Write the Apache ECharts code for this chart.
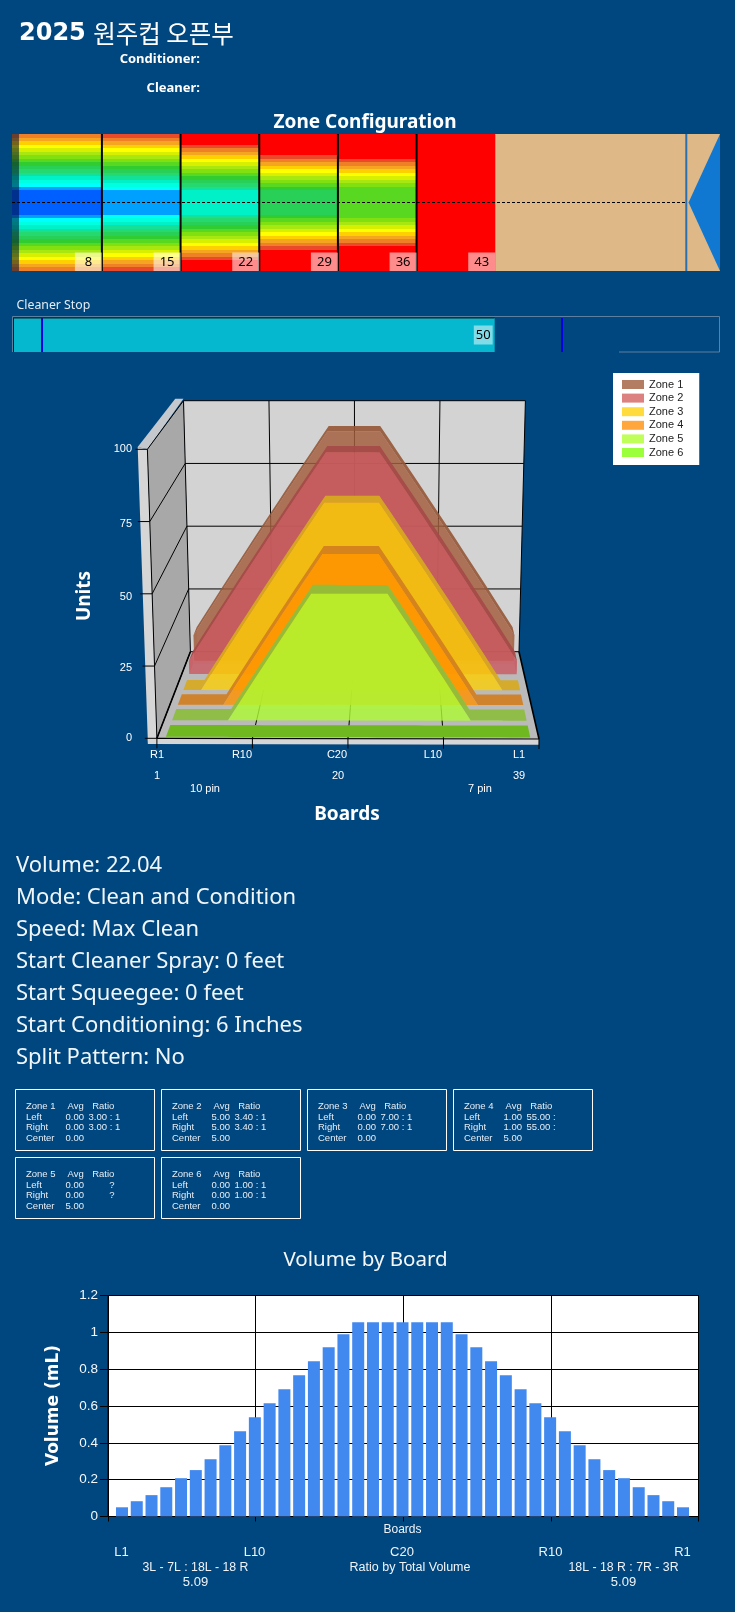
<![CDATA[<!DOCTYPE html>
<html><head><meta charset="utf-8">
<style>html,body{margin:0;padding:0;background:#00467F;}#c{width:735px;height:1612px;}</style>
<script src="https://cdn.jsdelivr.net/npm/echarts@6/dist/echarts.min.js"></script>
</head><body><div id="c"></div>
<script>
// ---- data ----
const zoneNames=['Zone 1','Zone 2','Zone 3','Zone 4','Zone 5','Zone 6'];
const zone1=[10,15,20,25,30,35,40,45,50,55,60,65,70,75,80,85,90,90,90,90,90,90,90,85,80,75,70,65,60,55,50,45,40,35,30,25,20,15,10];
const zone2=[5,10,15,20,25,30,35,40,45,50,55,60,65,70,75,80,85,85,85,85,85,85,85,80,75,70,65,60,55,50,45,40,35,30,25,20,15,10,5];
const zone3=[0,0,0,5,10,15,20,25,30,35,40,45,50,55,60,65,70,70,70,70,70,70,70,65,60,55,50,45,40,35,30,25,20,15,10,5,0,0,0];
const zone4=[0,0,0,0,0,0,5,10,15,20,25,30,35,40,45,50,55,55,55,55,55,55,55,50,45,40,35,30,25,20,15,10,5,0,0,0,0,0,0];
const zone5=[0,0,0,0,0,0,0,5,10,15,20,25,30,35,40,45,45,45,45,45,45,45,45,45,40,35,30,25,20,15,10,5,0,0,0,0,0,0,0];
const zone6=[0,0,0,0,0,0,0,0,0,0,0,0,0,0,0,0,0,0,0,0,0,0,0,0,0,0,0,0,0,0,0,0,0,0,0,0,0,0,0];
const zoneValues=[zone1,zone2,zone3,zone4,zone5,zone6];
const zoneStops=[0,8,15,22,29,36,43];
const cleanerStop=[50];
const cleanerMarks=[3,57];
const unitTicks=[0,25,50,75,100];
const boardTicks=[0.125,10.06,20,29.94,39.875];
const boardVolume=[0.05,0.083,0.116,0.159,0.208,0.252,0.311,0.387,0.463,0.539,0.615,0.691,0.767,0.843,0.919,0.99,1.055,1.055,1.055,1.055,1.055,1.055,1.055,0.99,0.919,0.843,0.767,0.691,0.615,0.539,0.463,0.387,0.311,0.252,0.208,0.159,0.116,0.083,0.05];
const infoLines=['Volume: 22.04','Mode: Clean and Condition','Speed: Max Clean','Start Cleaner Spray: 0 feet','Start Squeegee: 0 feet','Start Conditioning: 6 Inches','Split Pattern: No'];
const statAvgLeft=['0.00','5.00','0.00','1.00','0.00','0.00'];
const statAvgRight=['0.00','5.00','0.00','1.00','0.00','0.00'];
const statCenter=['0.00','5.00','0.00','5.00','5.00','0.00'];
const statRatio=['3.00 : 1','3.40 : 1','7.00 : 1','55.00 :','?','1.00 : 1'];
// ---- style ----
const BG='#00467F';
const heatPalette=['#ff0000','#e84a2a','#f08028','#f5a520','#ffd000','#ffff00','#d8f000','#a8e810','#80e010','#58d820','#30cc30','#28d058','#25d870','#15e098','#00f0c8','#00ffe0','#00ffff','#00a0ff','#0060ff','#0050ff','#0040ff'];
const frontColors=['rgba(162,95,62,.8)','rgba(203,89,96,.8)','rgba(251,206,6,.8)','rgba(255,145,0,.8)','rgba(172,251,50,.8)','rgba(150,240,40,.8)'];
const topColors=['rgba(150,88,58,.9)','rgba(165,72,72,.9)','rgba(215,170,30,.9)','rgba(210,125,30,.9)','rgba(140,190,60,.9)','rgba(112,184,32,1)'];
const legendColors=['#B27D63','#DC8080','#FFDC3C','#FFA63C','#C0FF5A','#9CFF3C'];
const BOARD_MIN=0.125,BOARD_MAX=39.875;
// perspective frame of the 3D box: corners -> pixel
const C={p000:[156.9,738.3],p100:[539,739],p010:[147.4,449.3],p110:[548.5,449.3],p001:[190.4,651.7],p101:[519,651.7],p011:[183.5,400.7],p111:[525.4,400.7]};
const zoneDepth=[[.895,.995],[.742,.858],[.558,.673],[.388,.51],[.21,.338],[.018,.154]];
function L(a,b,t){return [a[0]+(b[0]-a[0])*t,a[1]+(b[1]-a[1])*t];}
function tri(u,v,w){
  const f0=L(L(C.p000,C.p100,u),L(C.p010,C.p110,u),v);
  const f1=L(L(C.p001,C.p101,u),L(C.p011,C.p111,u),v);
  return L(f0,f1,w);
}
function proj(params,api){
  const g=params.coordSys;
  return (board,units,w)=>{const c=api.coord([board,units]);return tri((c[0]-g.x)/g.width,1-(c[1]-g.y)/g.height,w);};
}
function poly(points,fill,extra){return Object.assign({type:'polygon',shape:{points,smooth:0},style:{fill}},extra||{});}
function line(a,b,width,color){return {type:'line',shape:{x1:a[0],y1:a[1],x2:b[0],y2:b[1]},style:{stroke:color||'#000',lineWidth:width||1,fill:null}};}
// ---- series: lane ----
const stripeData=[];
zoneValues.forEach((vals,z)=>vals.forEach((v,row)=>stripeData.push([zoneStops[z],zoneStops[z+1],row,v])));
const LANE_END=60,DECK_END=63,GUTTER=0.62;
const laneSeries=[{type:'custom',xAxisIndex:0,yAxisIndex:0,data:stripeData,silent:true,encode:{x:[0,1],y:2},
  renderItem(p,api){
    const a=api.coord([api.value(0),api.value(2)]),b=api.coord([api.value(1),api.value(2)+1]);
    const y0=Math.round(a[1]),y1=Math.round(b[1]);
    return {type:'rect',shape:{x:a[0],y:y0,width:b[0]-a[0],height:y1-y0},style:{fill:api.visual('color')}};
  }},
 {type:'custom',xAxisIndex:0,yAxisIndex:0,data:zoneStops.slice(1),silent:true,z:3,encode:{x:0},
  renderItem(p,api){
    const ft=api.value(0),top=api.coord([ft,0]),bot=api.coord([ft,39]);
    const ch=[];
    if(p.dataIndex===0){
      const r0=api.coord([43,0]),r1=api.coord([DECK_END,39]),f0=api.coord([LANE_END,0]),f1=api.coord([LANE_END,39]),mid=api.coord([LANE_END+.2,19.5]),e0=api.coord([DECK_END,0]),e1=api.coord([DECK_END,39]);
      ch.push({type:'rect',shape:{x:r0[0],y:r0[1],width:r1[0]-r0[0],height:r1[1]-r0[1]},style:{fill:'#DEB887'}});
      ch.push(poly([mid,e0,e1],'#1078D0'));
      const g0=api.coord([0,0]),g1=api.coord([GUTTER,39]);
      ch.push({type:'rect',shape:{x:g0[0],y:g0[1],width:g1[0]-g0[0],height:g1[1]-g0[1]},style:{fill:'rgba(0,10,50,.55)'}});
      ch.push(line(f0,f1,2,'#2A6FB0'));
      const c0=api.coord([0,19.5]),c1=api.coord([LANE_END,19.5]);
      ch.push({type:'line',shape:{x1:c0[0],y1:c0[1],x2:c1[0],y2:c1[1]},style:{stroke:'#000',lineWidth:1,lineDash:[3,2],fill:null}});
    }
    if(ft<43) ch.push(line(top,bot,2,'#000'));
    ch.push({type:'rect',shape:{x:bot[0]-27,y:bot[1]-18.5,width:27,height:18.5},style:{fill:'rgba(255,255,255,.55)'}});
    ch.push({type:'text',style:{text:String(ft),x:bot[0]-13.5,y:bot[1]-9,fill:'#000',font:'13px "Noto Sans"',textAlign:'center',textVerticalAlign:'middle'}});
    return {type:'group',children:ch};
  }}];
const cleanerSeries={type:'bar',xAxisIndex:1,yAxisIndex:1,data:cleanerStop,barWidth:'100%',silent:true,itemStyle:{color:'#05B8D0'},
  label:{show:true,position:'insideRight',distance:2,color:'#000',fontSize:13,fontFamily:'Noto Sans',backgroundColor:'rgba(255,255,255,.5)',padding:[3,2,3,2]},
  markLine:{silent:true,symbol:'none',label:{show:false},lineStyle:{color:'#0000E0',width:2,type:'solid'},data:cleanerMarks.map(v=>({xAxis:v}))}};
// ---- series: 3D walls ----
const wallSeries={type:'custom',xAxisIndex:2,yAxisIndex:2,data:[[1,0]],silent:true,z:2,encode:{x:0,y:1},
  renderItem(p,api){
    const P=proj(p,api),ch=[];
    const uOut=-.024,vOut=-.02,vTop=1.008;
    ch.push(poly([tri(0,vTop,1),tri(uOut,vTop,1),tri(uOut,vTop,0),tri(0,1,0)],'#C5C9CD'));
    ch.push(poly([tri(uOut,vTop,0),tri(0,1,0),tri(0,0,0),tri(0,vOut,0),tri(uOut,vOut,0)],'#D6D6D6'));
    ch.push(poly([tri(uOut,vOut,0),tri(1,vOut,0),tri(1,0,0),tri(uOut,0,0)],'#D6D6D6'));
    ch.push(poly([tri(0,0,1),tri(1,0,1),tri(1,1,1),tri(0,1,1)],'#D3D3D3'));
    ch.push(poly([tri(0,0,0),tri(0,0,1),tri(0,1,1),tri(0,1,0)],'#A8A8A8'));
    ch.push(poly([tri(0,0,0),tri(1,0,0),tri(1,0,1),tri(0,0,1)],'#BABABA'));
    unitTicks.forEach(t=>{
      const a=P(BOARD_MIN,t,0),b=P(BOARD_MIN,t,1),c=P(BOARD_MAX,t,1);
      ch.push(line(a,b),line(b,c));
      ch.push(line([a[0]-12,a[1]],a));
    });
    boardTicks.forEach(t=>{
      const a=P(t,0,0),b=P(t,0,1),c=P(t,100,1);
      if(t>BOARD_MIN&&t<BOARD_MAX){ch.push(line(a,b),line(b,c));}
      ch.push(line(a,[a[0],a[1]+10]));
    });
    ch.push(line(P(BOARD_MIN,0,1),P(BOARD_MIN,100,1)),line(P(BOARD_MAX,0,1),P(BOARD_MAX,100,1)));
    ch.push(line(P(BOARD_MIN,0,0),P(BOARD_MIN,100,0)));
    ch.push(line(P(BOARD_MIN,0,0),P(BOARD_MIN,0,1),1.6),line(P(BOARD_MAX,0,0),P(BOARD_MAX,0,1),1.6),line(P(BOARD_MIN,0,0),P(BOARD_MAX,0,0),1.2));
    return {type:'group',children:ch};
  }};
const zoneSeries=zoneNames.map((name,z)=>({name,type:'custom',xAxisIndex:2,yAxisIndex:2,silent:true,z:3+z,encode:{x:0,y:1},
  data:zoneValues[z].map((v,i)=>[i+1,v]),
  itemStyle:{color:legendColors[z]},
  renderItem(p,api){
    if(p.dataIndex!==0) return null;
    const P=proj(p,api),n=p.dataInsideLength,[w0,w1]=zoneDepth[z],top0=[],top1=[];
    for(let i=0;i<n;i++){
      const b=api.value(0,i),v=api.value(1,i);
      top0.push(P(b,v,w0));top1.push(P(b,v,w1));
    }
    const b0=api.value(0,0),b1=api.value(0,n-1),ch=[];
    const front=top0.concat([P(b1,0,w0),P(b0,0,w0)]);
    const back=top1.concat([P(b1,0,w1),P(b0,0,w1)]);
    if(z<5) ch.push(poly(back,frontColors[z].replace(/[\d.]+\)$/,'.18)')));
    ch.push(poly(top0.concat(top1.slice().reverse()),topColors[z]));
    if(z<2){
      const capA=[top0[0],top1[0],P(b0,0,w1),P(b0,0,w0)],capB=[top0[n-1],top1[n-1],P(b1,0,w1),P(b1,0,w0)];
      ch.push(poly(capA,topColors[z].replace(/[\d.]+\)$/,'.35)')),poly(capB,topColors[z].replace(/[\d.]+\)$/,'.35)')));
    }
    if(z<5) ch.push(poly(front,frontColors[z]));
    return {type:'group',children:ch};
  }}));
// ---- series: volume bars ----
const volumeSeries={type:'bar',xAxisIndex:3,yAxisIndex:3,data:boardVolume.map((v,i)=>[i+1,v]),barWidth:12,silent:true,itemStyle:{color:'#4189EE'},z:3};
// ---- text & decoration ----
const gfx=[];
function T(text,x,y,font,opt){
  gfx.push(Object.assign({type:'text',silent:true,z:50,x:x,y:y,style:Object.assign({text,font,fill:'#fff',textAlign:'left',textVerticalAlign:'middle'},opt&&opt.style||{})},opt&&opt.el||{}));
}
const SANS='"Noto Sans"',ARIAL='"Liberation Sans"';
gfx.push({type:'text',silent:true,z:50,x:19,y:33.5,style:{text:'{a|2025} {b|원주컵 오픈부}',textVerticalAlign:'middle',fill:'#fff',rich:{a:{fontWeight:'bold',fontSize:24,fontFamily:'DejaVu Sans',color:'#fff',fill:'#fff'},b:{fontSize:24.5,fontFamily:'Noto Sans CJK KR',color:'#fff',fill:'#fff',padding:[0,0,0,4]}}}});
T('Conditioner:',200,59,'bold 13px '+SANS,{style:{textAlign:'right'}});
T('Cleaner:',200,88,'bold 13px '+SANS,{style:{textAlign:'right'}});
T('Zone Configuration',365,122.5,'bold 19px '+SANS,{style:{textAlign:'center'}});
T('Cleaner Stop',16.5,305.5,'12.3px '+SANS,{style:{fill:'#E4ECF4'}});
gfx.push({type:'polyline',silent:true,z:40,shape:{points:[[12.5,352],[12.5,316.5],[719.5,316.5],[719.5,352],[619,352]]},style:{stroke:'#5F7F9F',lineWidth:1,fill:null}});
gfx.push({type:'polyline',silent:true,z:41,shape:{points:[[13.5,352],[13.5,318],[494.5,318]]},style:{stroke:'#10202A',lineWidth:1,fill:null}});
// 3D axis labels
const axisFont='11px '+ARIAL;
const unitLabelY=[738,668,597,524,449];
unitTicks.forEach((t,i)=>T(String(t),132,unitLabelY[i],axisFont,{style:{textAlign:'right'}}));
[['R1',157],['R10',242],['C20',337],['L10',433],['L1',519]].forEach(a=>T(a[0],a[1],755,axisFont,{style:{textAlign:'center'}}));
[['1',157],['20',338],['39',519]].forEach(a=>T(a[0],a[1],776,axisFont,{style:{textAlign:'center'}}));
[['10 pin',205],['7 pin',480]].forEach(a=>T(a[0],a[1],789,axisFont,{style:{textAlign:'center'}}));
T('Boards',347,815,'bold 19px '+SANS,{style:{textAlign:'center'}});
T('Units',85,596,'bold 19px '+SANS,{style:{textAlign:'center'},el:{rotation:Math.PI/2}});
// info block
infoLines.forEach((s,i)=>T(s,16,866+i*32,'22px '+SANS,{style:{fill:'#F0F6FA'}}));
// zone stat boxes
const boxX=[15.5,161.5,307.5,453.5,15.5,161.5],boxY=[1089.5,1089.5,1089.5,1089.5,1157.5,1157.5];
const statFont='9.5px '+ARIAL,statFill='#E6EEF4';
zoneNames.forEach((name,i)=>{
  const x=boxX[i],y=boxY[i];
  gfx.push({type:'rect',silent:true,z:40,shape:{x,y,width:139,height:61},style:{fill:null,stroke:'#fff',lineWidth:1}});
  const rows=[[name,'Avg','Ratio'],['Left',statAvgLeft[i],statRatio[i]],['Right',statAvgRight[i],statRatio[i]],['Center',statCenter[i],'']];
  const ys=[17.2,28.2,38.2,49.2];
  rows.forEach((r,k)=>{
    T(r[0],x+10.5,y+ys[k],statFont,{style:{fill:statFill}});
    T(r[1],x+(k===0?52:50),y+ys[k],statFont,{style:{fill:statFill}});
    if(r[2]==='?') T('?',x+96.5,y+ys[k],statFont,{style:{fill:statFill,textAlign:'center'}});
    else if(r[2]) T(r[2],x+(k===0?76.7:73),y+ys[k],statFont,{style:{fill:statFill}});
  });
});
// volume chart text
T('Volume by Board',365.5,1260.5,'20.5px '+SANS,{style:{textAlign:'center',fill:'#F4F8FA'}});
T('Volume (mL)',53.5,1405.5,'bold 17px "DejaVu Sans"',{style:{textAlign:'center'},el:{rotation:Math.PI/2}});
T('Boards',402.5,1529.5,'12px '+ARIAL,{style:{textAlign:'center',fill:'#F0F4F8'}});
[['L1',121.5],['L10',254.5],['C20',402],['R10',550.5],['R1',682.5]].forEach(a=>T(a[0],a[1],1552.5,'13px '+ARIAL,{style:{textAlign:'center',fill:'#F0F4F8'}}));
T('3L - 7L : 18L - 18 R',195.5,1568,'12.3px '+ARIAL,{style:{textAlign:'center',fill:'#F0F4F8'}});
T('5.09',195.5,1582.5,'13px '+ARIAL,{style:{textAlign:'center',fill:'#F0F4F8'}});
T('Ratio by Total Volume',410,1568,'12.5px '+ARIAL,{style:{textAlign:'center',fill:'#F0F4F8'}});
T('18L - 18 R : 7R - 3R',623.5,1568,'12.3px '+ARIAL,{style:{textAlign:'center',fill:'#F0F4F8'}});
T('5.09',623.5,1582.5,'13px '+ARIAL,{style:{textAlign:'center',fill:'#F0F4F8'}});

const option={
  animation:false,
  backgroundColor:BG,
  textStyle:{fontFamily:'Liberation Sans'},
  grid:[
    {left:12,top:134,width:708,height:137,show:false},
    {left:12.6,top:318,width:707,height:34,show:false},
    {left:157,top:400,width:382,height:338,show:false},
    {left:108,top:1295.5,width:590.5,height:221,show:true,backgroundColor:'#fff',borderColor:'#000',borderWidth:1}
  ],
  xAxis:[
    {type:'value',gridIndex:0,min:0,max:DECK_END,show:false},
    {type:'value',gridIndex:1,min:0,max:73.33,show:false},
    {type:'value',gridIndex:2,min:BOARD_MIN,max:BOARD_MAX,show:false},
    {type:'value',gridIndex:3,min:0.052,max:40.05,show:false},
    {type:'value',gridIndex:3,min:0,max:4,interval:1,position:'bottom',axisLabel:{show:false},
      axisLine:{show:true,lineStyle:{color:'#000'}},axisTick:{show:true,length:5,lineStyle:{color:'#000'}},
      splitLine:{show:true,lineStyle:{color:'#000',width:1}}}
  ],
  yAxis:[
    {type:'value',gridIndex:0,min:0,max:39,inverse:true,show:false},
    {type:'category',gridIndex:1,data:['stop'],show:false},
    {type:'value',gridIndex:2,min:0,max:100,show:false},
    {type:'value',gridIndex:3,min:0,max:1.2,interval:.2,
      axisLabel:{color:'#F4F8FA',fontSize:13.5,fontFamily:'Liberation Sans',margin:10},
      axisLine:{show:true,lineStyle:{color:'#000'}},axisTick:{show:true,length:8,lineStyle:{color:'#000'}},
      splitLine:{show:true,lineStyle:{color:'#000',width:1}}}
  ],
  visualMap:[{show:false,type:'continuous',min:0,max:100,dimension:3,seriesIndex:0,inRange:{color:heatPalette}}],
  legend:{show:true,orient:'vertical',left:613,top:373,backgroundColor:'#fff',padding:[6,16,7,9],itemWidth:22,itemHeight:9,itemGap:2.6,icon:'rect',selectedMode:false,
    textStyle:{color:'#222',fontSize:11,fontFamily:'Liberation Sans'},
    data:zoneNames.map((n,i)=>({name:n,itemStyle:{color:legendColors[i]}}))},
  series:[...laneSeries,cleanerSeries,wallSeries,...zoneSeries,volumeSeries],
  graphic:gfx
};
const chart=echarts.init(document.getElementById('c'),null,{renderer:'canvas',width:735,height:1612});
chart.setOption(option);
</script></body></html>]]>
